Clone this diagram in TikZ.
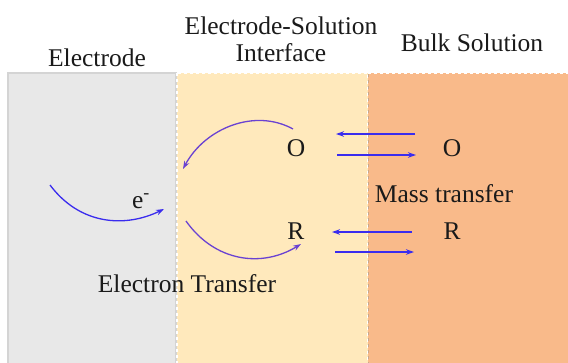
\documentclass[tikz,border=0pt]{standalone}
\usepackage{fontspec}
\setmainfont{Liberation Serif}
\usetikzlibrary{arrows.meta}
\definecolor{elgray}{HTML}{E8E8E8}
\definecolor{elborder}{HTML}{D4D4D4}
\definecolor{ifill}{HTML}{FFE9BC}
\definecolor{bfill}{HTML}{F9BA8A}
\definecolor{bborder}{HTML}{C8A88C}
\definecolor{arrblue}{HTML}{3A2CEE}
\definecolor{arrpurple}{HTML}{6A42D2}
\definecolor{txt}{HTML}{1A1A1A}
\tikzset{
  lbl/.style={font=\fontsize{25.5}{30}\selectfont, text=txt, inner sep=0pt},
  mt/.style={arrblue, line width=1.3pt, -{Stealth[length=8pt,width=5.5pt]}},
  et/.style={arrpurple, line width=1.3pt, -{Stealth[length=8pt,width=5.5pt]}},
}
\begin{document}
\begin{tikzpicture}[x=1pt,y=-1pt]
\useasboundingbox (0,0) rectangle (568,362);
% regions
\path[fill=elgray, draw=elborder, line width=1.5pt] (8,73) rectangle (176,370);
\path[fill=ifill, draw=white, dashed, line width=1.5pt] (177,73) rectangle (368,370);
\path[fill=bfill] (368,73) rectangle (575,370);
\draw[white, dashed, line width=1.5pt] (368,73) -- (575,73);
\draw[bborder, dashed, line width=1pt] (368,74) -- (368,370);
% headers
\node[lbl, anchor=base] (hel) at (97,66) {Electrode};
\node[lbl, anchor=base, align=center] (hif) at (281,34) {Electrode-Solution};
\node[lbl, anchor=base] (hif2) at (281,61) {Interface};
\node[lbl, anchor=base] (hbs) at (472,51) {Bulk Solution};
% species
\node[lbl] (o1) at (296,148) {O};
\node[lbl] (r1) at (296,231) {R};
\node[lbl] (o2) at (452,148) {O};
\node[lbl] (r2) at (452,231) {R};
\node[lbl, anchor=base] (mass) at (444,202) {Mass transfer};
\node[lbl, anchor=base] (etr) at (187,292) {Electron Transfer};
\node[lbl, anchor=base] (em) at (141,208) {e\textsuperscript{-}};
% coordinates
\coordinate (es) at (50,185);
\coordinate (ee) at (164,209);
\coordinate (os) at (293,129);
\coordinate (oe) at (183,169);
\coordinate (rs) at (186,221);
\coordinate (re) at (301,244);
\coordinate (a1s) at (415,134); \coordinate (a1e) at (336,134);
\coordinate (a2s) at (337,155); \coordinate (a2e) at (416,155);
\coordinate (a3s) at (412,232); \coordinate (a3e) at (332,232);
\coordinate (a4s) at (335,252); \coordinate (a4e) at (414,252);
% electron transfer arrows
\draw[mt] (es) .. controls (80,225) and (125,228) .. (ee);
\draw[et] (os) .. controls (255,108) and (205,128) .. (oe);
\draw[et] (rs) .. controls (215,262) and (262,268) .. (re);
% mass transfer arrows
\draw[mt] (a1s) -- (a1e);
\draw[mt] (a2s) -- (a2e);
\draw[mt] (a3s) -- (a3e);
\draw[mt] (a4s) -- (a4e);
\end{tikzpicture}
\end{document}
